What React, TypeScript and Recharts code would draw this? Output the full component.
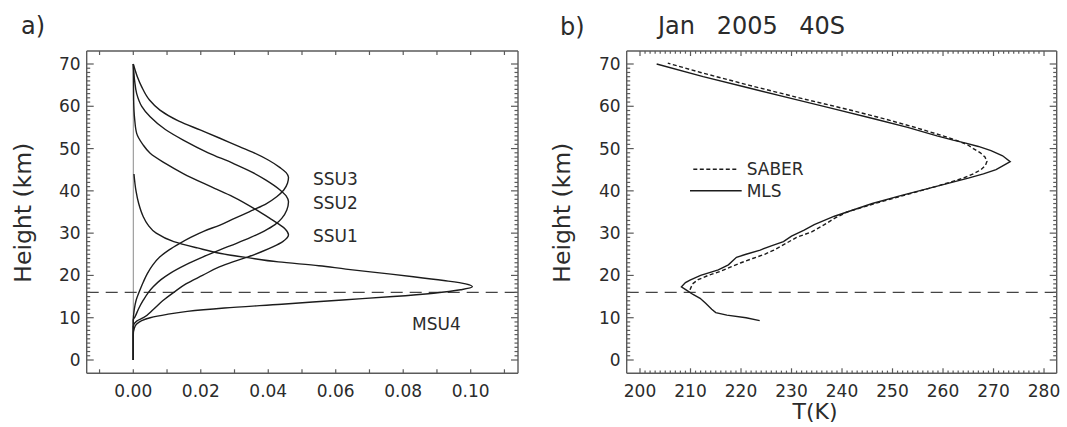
import React from "react";
import {
  ScatterChart,
  Scatter,
  XAxis,
  YAxis,
  ReferenceLine,
  Legend,
} from "recharts";

// ---- panel a: weighting functions (height km vs weight) ----
const msu4Height = [0, 6, 7.5, 8.5, 9.3, 10.0, 10.8, 11.5, 12.3, 13.2, 14.2, 15.0, 15.8, 16.6, 17.3, 18.0, 18.8, 19.7, 20.6, 21.5, 22.3, 23.2, 24.2, 25.2, 26.5, 28, 30, 32, 34, 37, 40, 44];
const msu4Weight = [0, 0, 0.0003, 0.001, 0.0025, 0.005, 0.01, 0.016, 0.027, 0.044, 0.062, 0.077, 0.089, 0.097, 0.1005, 0.0985, 0.092, 0.083, 0.073, 0.063, 0.055, 0.043, 0.034, 0.026, 0.019, 0.012, 0.0068, 0.0043, 0.0029, 0.0016, 0.0008, 0.0002];

const ssu1Height = [0, 8, 9.2, 10, 12, 14, 16, 18, 20, 22, 23.2, 24.4, 25.6, 26.8, 28, 29.6, 31, 32.3, 33.5, 35.5, 38.6, 41, 44.1, 46.5, 48.9, 51, 53.6, 57, 61.5, 70];
const ssu1Weight = [0, 0, 0.001, 0.003, 0.006, 0.0087, 0.012, 0.0156, 0.0205, 0.0255, 0.0295, 0.034, 0.038, 0.0415, 0.0443, 0.046, 0.0450, 0.0428, 0.0405, 0.0365, 0.0296, 0.023, 0.0148, 0.0095, 0.005, 0.0028, 0.001, 0.0004, 0.0001, 0];

const ssu2Height = [0, 9.5, 10.2, 12, 14.2, 16, 17.3, 19, 20.5, 22.5, 24.4, 26, 27.6, 29, 30.5, 32, 33.5, 35.5, 37.4, 38.8, 40.2, 42.6, 44.5, 46.5, 49, 52, 54.5, 57.5, 60, 63, 66, 70];
const ssu2Weight = [0, 0, 0.0005, 0.0015, 0.003, 0.0045, 0.0059, 0.0082, 0.0109, 0.0155, 0.0207, 0.0255, 0.0306, 0.0348, 0.0388, 0.0420, 0.0440, 0.0455, 0.046, 0.0453, 0.0435, 0.0392, 0.035, 0.0296, 0.0222, 0.0148, 0.0095, 0.005, 0.0025, 0.001, 0.0004, 0];

const ssu3Height = [0, 9.5, 12, 14, 16.6, 18.5, 20.5, 22.5, 24.4, 26, 27.6, 29, 30.5, 31.9, 33.5, 35.5, 37, 38.6, 40.2, 41.8, 43.2, 44.3, 45.5, 47.3, 49, 50.4, 52.5, 54.4, 56.5, 59.1, 61.5, 64.6, 67, 70];
const ssu3Weight = [0, 0, 0.0003, 0.0008, 0.002, 0.003, 0.0042, 0.0058, 0.0079, 0.0105, 0.0138, 0.017, 0.021, 0.0257, 0.03, 0.0356, 0.0395, 0.0425, 0.0446, 0.0457, 0.046, 0.0453, 0.0435, 0.0400, 0.0358, 0.0316, 0.0255, 0.0198, 0.0135, 0.0079, 0.0048, 0.0025, 0.0012, 0];

const weightTicks = [-0.01, 0, 0.01, 0.02, 0.03, 0.04, 0.05, 0.06, 0.07, 0.08, 0.09, 0.1, 0.11];
const channelLabels = [
  { name: "SSU3", x: 313, y: 184.5 },
  { name: "SSU2", x: 313, y: 208.7 },
  { name: "SSU1", x: 313, y: 242 },
  { name: "MSU4", x: 412, y: 329.5 },
];

// ---- panel b: temperature profiles, Jan 2005 40S ----
const mlsHeight = [9.3, 10, 10.6, 11.2, 12, 13.4, 14.6, 15.5, 16.3, 17.3, 18.3, 18.9, 20, 21.3, 22.5, 24.3, 25, 26, 27, 28, 29.3, 30.7, 32, 33, 34, 35, 37, 39, 41, 43, 44, 45, 46, 46.9, 48.3, 49.5, 50.5, 51.3, 52, 53, 55, 57, 59.5, 62, 64.5, 67, 70];
const mlsTemp = [223.7, 221, 217.2, 215, 214.2, 213, 211.9, 210.5, 209.5, 208.2, 209, 209.9, 212, 215.5, 217.5, 219.1, 221, 223.8, 226, 228.4, 230, 232.5, 234.5, 236.5, 238.5, 241, 246, 252, 258.5, 265, 268, 270.5, 272, 273.3, 271.8, 269.5, 267, 264.5, 262, 258.8, 253, 246.5, 238, 229.5, 221, 212.5, 203.3];

const saberHeight = [16.6, 18, 19, 20, 21, 22, 23, 24, 25, 26, 27.5, 29, 30.3, 32, 33.5, 35, 37, 39, 41, 43, 44, 45, 46, 47, 48, 49, 50, 51, 52, 53, 55, 57, 59, 62, 65, 68, 70.2];
const saberTemp = [209.9, 210.4, 211.5, 213.5, 216, 218, 220, 222.3, 224.7, 226.5, 228.8, 231, 234, 236.5, 238.5, 241, 246.5, 252.5, 258.5, 264, 266, 267.5, 268.4, 268.7, 268.3, 267.4, 266, 264.7, 262.5, 260, 254.5, 248.5, 242, 231.5, 221.5, 212, 205.5];

const kmTicks = Array.from({ length: 71 }, (_, i) => i);
const tempTicks = Array.from({ length: 81 }, (_, i) => 200 + i);

const INK = "#1c1c1c";
const AXIS = "#5a5a5a";
const TEXT = "#2b2b2b";
const FONT = "'DejaVu Sans', Verdana, sans-serif";
const TROPOPAUSE = 16;

const toPoints = (hs: number[], vs: number[]) =>
  hs.map((h, i) => ({ x: vs[i], y: h }));

const noDot = () => <g />;

type Side = "bottom" | "top" | "left" | "right";

const makeTick =
  (side: Side, isMajor: (v: number) => boolean, majorLen: number, minorLen: number, label?: (v: number) => string | null) =>
  (props: any) => {
    const { x, y, payload } = props;
    const v = payload.value;
    const len = isMajor(v) ? majorLen : minorLen;
    const text = label ? label(v) : null;
    let l = { x1: x, y1: y, x2: x, y2: y - len };
    if (side === "top") l = { x1: x, y1: y, x2: x, y2: y + len };
    if (side === "left") l = { x1: x, y1: y, x2: x + len, y2: y };
    if (side === "right") l = { x1: x, y1: y, x2: x - len, y2: y };
    return (
      <g>
        <line {...l} stroke={AXIS} strokeWidth={1.2} />
        {text !== null && side === "bottom" && (
          <text x={x} y={y + 23.7} textAnchor="middle" fontSize={17} fontFamily={FONT} fill={TEXT}>
            {text}
          </text>
        )}
        {text !== null && side === "left" && (
          <text x={x - 6} y={y + 6} textAnchor="end" fontSize={17} fontFamily={FONT} fill={TEXT}>
            {text}
          </text>
        )}
      </g>
    );
  };

const isTen = (v: number) => Math.round(v) % 10 === 0;
const always = () => true;
const weightLabel = (v: number) => {
  const c = Math.round(v * 100);
  return c >= 0 && c <= 10 && c % 2 === 0 ? v.toFixed(2) : null;
};
const tenLabel = (v: number) => (Math.round(v) % 10 === 0 ? String(v) : null);

const axisLine = { stroke: AXIS, strokeWidth: 1.4 };
const kmDomain: [number, number] = [-3.145, 73.074];
// plot box: top 51, bottom 373.3, left 86.7 (axes take 30 / 10 / 40 / 10 px)
const margin = { top: 41, right: 2, bottom: 23.7, left: 46.7 };

const series = [
  { name: "SABER", height: saberHeight, temp: saberTemp, dash: "4 2.5" },
  { name: "MLS", height: mlsHeight, temp: mlsTemp, dash: undefined as string | undefined },
];

const renderLegend = () => (
  <svg width={130} height={50} style={{ display: "block" }}>
    {series.map((s, i) => (
      <g key={s.name}>
        <line
          x1={s.dash ? 3.3 : 0}
          y1={14.3 + i * 21.4}
          x2={s.dash ? 46.7 : 51.7}
          y2={14.3 + i * 21.4}
          stroke={INK}
          strokeWidth={1.4}
          strokeDasharray={s.dash}
        />
        <text x={56.7} y={20.3 + i * 21.4} fontSize={17} fontFamily={FONT} fill={TEXT}>
          {s.name}
        </text>
      </g>
    ))}
  </svg>
);

const axisCommon = {
  type: "number" as const,
  allowDataOverflow: true,
  interval: 0 as const,
  tickSize: 0,
  tickMargin: 0,
  tickLine: false,
  axisLine,
};

const WeightPanel = () => (
  <ScatterChart width={530} height={427} margin={margin}>
    <XAxis
      {...axisCommon}
      dataKey="x"
      domain={[-0.01381, 0.11402]}
      ticks={weightTicks}
      height={30}
      tick={makeTick("bottom", always, 4, 4, weightLabel)}
    />
    <XAxis
      {...axisCommon}
      xAxisId="top"
      orientation="top"
      dataKey="x"
      domain={[-0.01381, 0.11402]}
      ticks={weightTicks}
      height={10}
      tick={makeTick("top", always, 4, 4)}
    />
    <YAxis
      {...axisCommon}
      dataKey="y"
      domain={kmDomain}
      ticks={kmTicks}
      width={40}
      tick={makeTick("left", isTen, 7, 3.5, tenLabel)}
    />
    <YAxis
      {...axisCommon}
      yAxisId="right"
      orientation="right"
      dataKey="y"
      domain={kmDomain}
      ticks={kmTicks}
      width={10}
      tick={makeTick("right", isTen, 7, 3.5)}
    />
    <Scatter data={[{ x: 0, y: 0 }]} xAxisId="top" yAxisId="right" shape={noDot} isAnimationActive={false} legendType="none" />
    <ReferenceLine
      segment={[{ x: 0, y: 0 }, { x: 0, y: 70 }]}
      stroke="#8a8a8a"
      strokeWidth={1}
    />
    <ReferenceLine y={TROPOPAUSE} stroke="#444" strokeWidth={1.2} strokeDasharray="12 7" />
    {[
      { name: "MSU4", h: msu4Height, w: msu4Weight },
      { name: "SSU1", h: ssu1Height, w: ssu1Weight },
      { name: "SSU2", h: ssu2Height, w: ssu2Weight },
      { name: "SSU3", h: ssu3Height, w: ssu3Weight },
    ].map((c) => (
      <Scatter
        key={c.name}
        name={c.name}
        data={toPoints(c.h, c.w)}
        line={{ stroke: INK, strokeWidth: 1.4 }}
        lineJointType="monotoneY"
        shape={noDot}
        legendType="none"
        isAnimationActive={false}
      />
    ))}
  </ScatterChart>
);

const ProfilePanel = () => (
  <ScatterChart width={527} height={427} margin={{ ...margin, right: 0.3 }}>
    <XAxis
      {...axisCommon}
      dataKey="x"
      domain={[197.366, 282.51]}
      ticks={tempTicks}
      height={30}
      tick={makeTick("bottom", isTen, 5, 2.7, tenLabel)}
    />
    <XAxis
      {...axisCommon}
      xAxisId="top"
      orientation="top"
      dataKey="x"
      domain={[197.366, 282.51]}
      ticks={tempTicks}
      height={10}
      tick={makeTick("top", isTen, 5, 2.7)}
    />
    <YAxis
      {...axisCommon}
      dataKey="y"
      domain={kmDomain}
      ticks={kmTicks}
      width={40}
      tick={makeTick("left", isTen, 7, 3.5, tenLabel)}
    />
    <YAxis
      {...axisCommon}
      yAxisId="right"
      orientation="right"
      dataKey="y"
      domain={kmDomain}
      ticks={kmTicks}
      width={10}
      tick={makeTick("right", isTen, 7, 3.5)}
    />
    <Scatter data={[{ x: 240, y: 30 }]} xAxisId="top" yAxisId="right" shape={noDot} isAnimationActive={false} legendType="none" />
    <ReferenceLine y={TROPOPAUSE} stroke="#444" strokeWidth={1.2} strokeDasharray="12 7" />
    {series.map((s) => (
      <Scatter
        key={s.name}
        name={s.name}
        data={toPoints(s.height, s.temp)}
        line={{ stroke: INK, strokeWidth: 1.4, strokeDasharray: s.dash }}
        shape={noDot}
        isAnimationActive={false}
      />
    ))}
    <Legend
      layout="vertical"
      align="center"
      verticalAlign="middle"
      content={renderLegend}
      wrapperStyle={{ left: 150, top: 155, width: 130, height: 50 }}
    />
  </ScatterChart>
);

export default function App() {
  return (
    <div style={{ position: "relative", width: 1067, height: 427, background: "#fff", fontFamily: FONT }}>
      <style>{`body{margin:0}`}</style>
      <div style={{ position: "absolute", left: 0, top: 0 }}>
        <WeightPanel />
      </div>
      <div style={{ position: "absolute", left: 540, top: 0 }}>
        <ProfilePanel />
      </div>
      <svg
        width={1067}
        height={427}
        style={{ position: "absolute", left: 0, top: 0, pointerEvents: "none" }}
        fontFamily={FONT}
        fill={TEXT}
      >
        <text x={21} y={34} fontSize={24}>a)</text>
        <text x={560} y={35} fontSize={24}>b)</text>
        <text x={658} y={34} fontSize={24} wordSpacing={14}>Jan 2005 40S</text>
        <text transform="translate(31,212.7) rotate(-90)" textAnchor="middle" fontSize={23.5}>
          Height (km)
        </text>
        <text transform="translate(570,212.7) rotate(-90)" textAnchor="middle" fontSize={23.5}>
          Height (km)
        </text>
        <text x={815} y={419} textAnchor="middle" fontSize={22}>T(K)</text>
        {channelLabels.map((c) => (
          <text key={c.name} x={c.x} y={c.y} fontSize={17}>
            {c.name}
          </text>
        ))}
      </svg>
    </div>
  );
}
